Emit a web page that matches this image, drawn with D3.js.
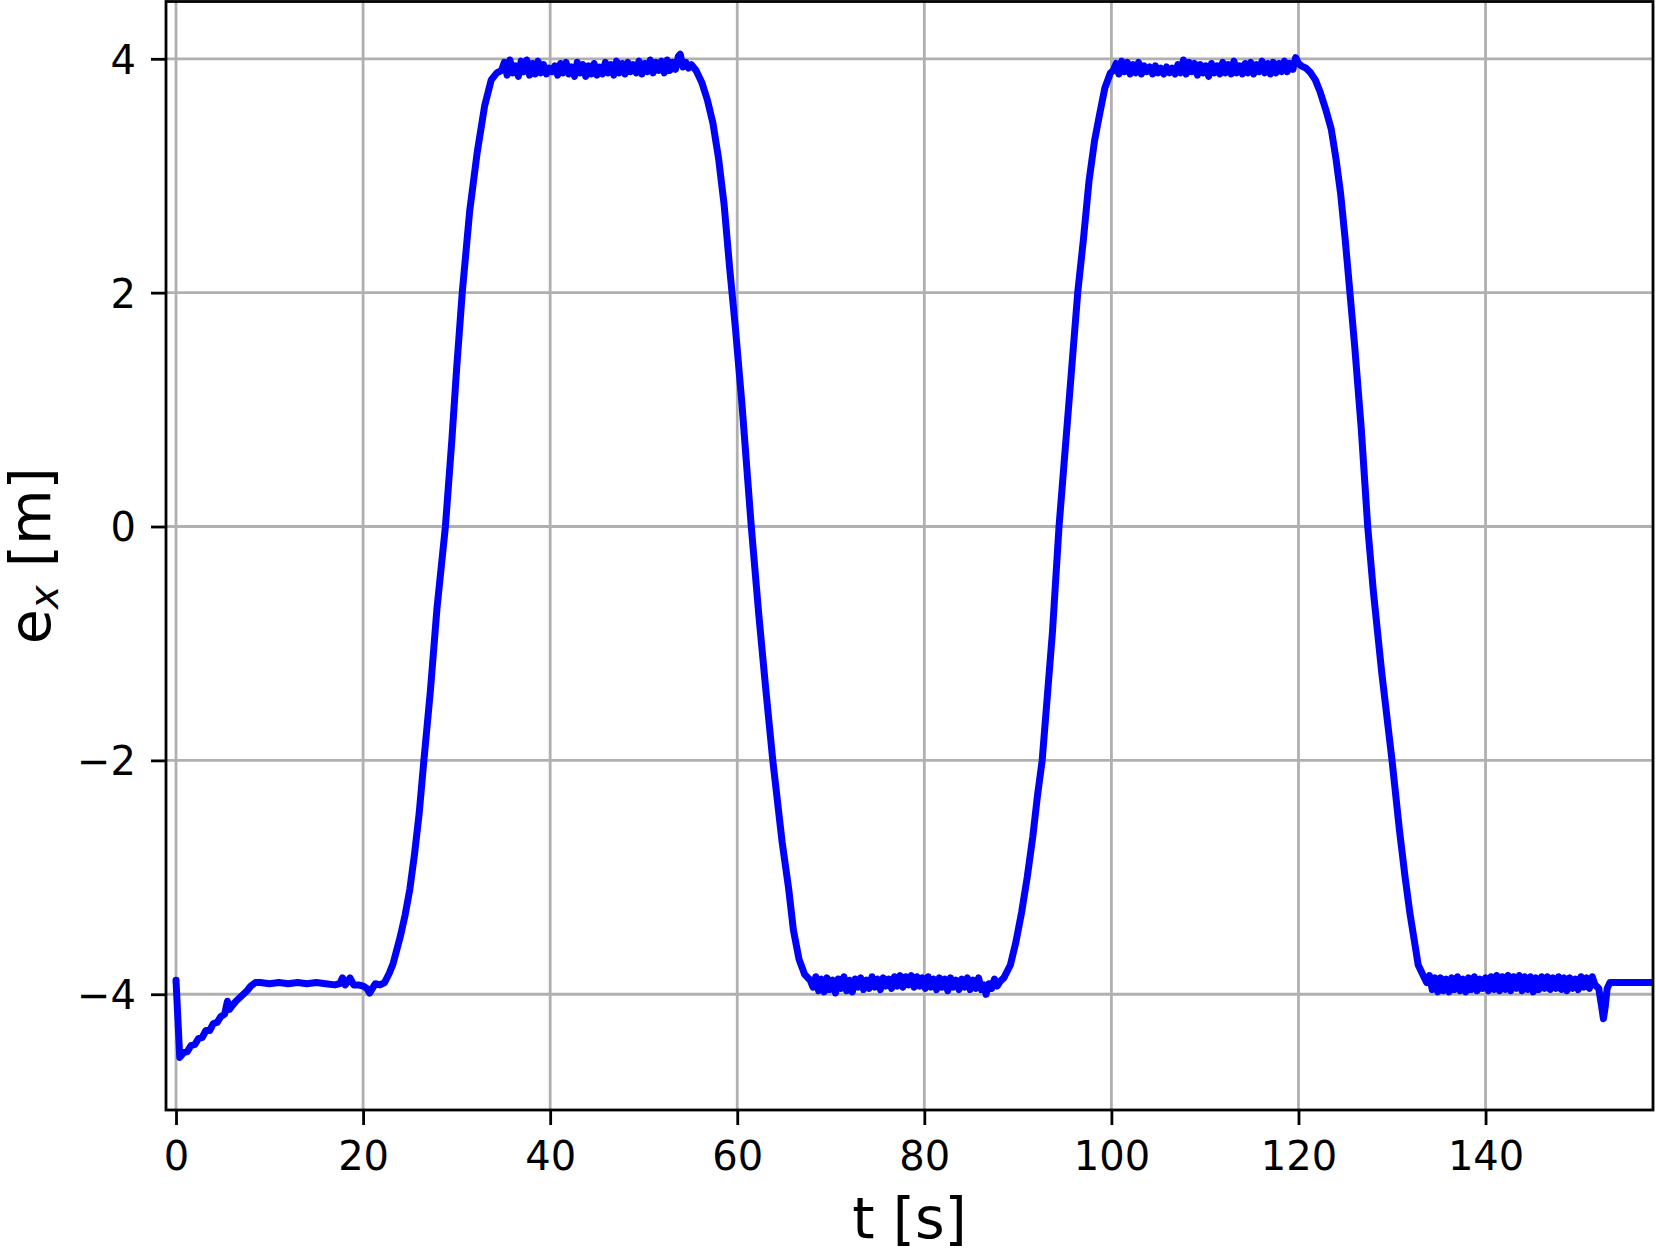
<!DOCTYPE html>
<html>
<head>
<meta charset="utf-8">
<script src="https://cdn.jsdelivr.net/npm/d3@7"></script>
<style>
  body { margin: 0; background: white; }
  svg { display: block; font-family: "DejaVu Sans", sans-serif; }
</style>
</head>
<body>
<svg></svg>
<script>
let width = 1656, height = 1249;

// Data: [t (s), e_x (m)]
const startRamp = [[0.0,-3.88],[0.4,-4.54],[0.8,-4.50],[1.2,-4.49],[1.6,-4.44],[2.0,-4.43],[2.4,-4.38],[2.8,-4.37],[3.2,-4.31],[3.6,-4.31],[4.0,-4.25],[4.4,-4.24],[4.8,-4.19],[5.2,-4.17],[5.5,-4.06],[5.7,-4.13],[6.0,-4.10],[6.4,-4.06],[6.8,-4.03],[7.2,-4.00],[7.6,-3.97],[8.0,-3.93],[8.5,-3.90]];
const firstHold = [[9,-3.90],[10,-3.91],[11,-3.90],[12,-3.91],[13,-3.90],[14,-3.91],[15,-3.90],[16,-3.91],[17,-3.92],[17.5,-3.91],[17.8,-3.86],[18.1,-3.92],[18.6,-3.86],[19.0,-3.92],[19.5,-3.92],[20.0,-3.93],[20.4,-3.95],[20.7,-3.99],[21.0,-3.95],[21.3,-3.91],[21.8,-3.92],[22.3,-3.90]];
const riseOne = [[22.8,-3.82],[23.2,-3.74],[23.6,-3.62],[24.0,-3.50],[24.5,-3.32],[25.0,-3.10],[25.5,-2.80],[26.0,-2.45],[26.5,-2.00],[27.2,-1.40],[27.9,-0.70],[28.8,0.00],[29.5,0.75],[30.0,1.35],[30.6,2.00],[31.4,2.70],[32.2,3.20],[33.0,3.60],[33.7,3.82],[34.3,3.88]];
const topOne = [[34.8,3.90],[35.1,3.97],[35.4,3.86],[35.7,3.99],[36.0,3.88],[36.3,3.94],[36.6,3.85],[36.9,3.98],[37.2,3.89],[37.5,3.99],[37.8,3.86],[38.1,3.96],[38.4,3.87],[38.7,3.98],[39.0,3.88],[39.3,3.95],[39.6,3.87],[39.9,3.92],[40.2,3.89],[40.5,3.94],[40.8,3.86],[41.1,3.96],[41.4,3.88],[41.7,3.97],[42.0,3.87],[42.3,3.93],[42.6,3.85],[42.9,3.97],[43.2,3.88],[43.5,3.95],[43.8,3.85],[44.1,3.94],[44.4,3.87],[44.7,3.96],[45.0,3.86],[45.3,3.93],[45.6,3.87],[45.9,3.97],[46.2,3.88],[46.5,3.95],[46.8,3.86],[47.1,3.98],[47.4,3.88],[47.7,3.96],[48.0,3.87],[48.3,3.97],[48.6,3.89],[48.9,3.95],[49.2,3.88],[49.5,3.98],[49.8,3.87],[50.1,3.96],[50.4,3.89],[50.7,3.99],[51.0,3.88],[51.3,3.97],[51.6,3.90],[51.9,3.98],[52.2,3.88],[52.5,3.99],[52.8,3.90],[53.1,3.97],[53.4,3.91],[53.7,4.02],[53.9,4.04],[54.2,3.93],[54.5,3.97],[54.8,3.92],[55.1,3.95]];
const fallOne = [[55.6,3.90],[56.2,3.80],[56.8,3.65],[57.4,3.45],[58.0,3.15],[58.6,2.75],[59.2,2.20],[59.8,1.70],[60.5,1.05],[61.5,0.00],[62.3,-0.75],[63.0,-1.35],[63.8,-2.00],[64.8,-2.70],[65.5,-3.10],[66.0,-3.45],[66.6,-3.70],[67.2,-3.83],[67.8,-3.88]];
const bottomOne = [[68.1,-3.94],[68.4,-3.85],[68.7,-3.97],[69.0,-3.87],[69.3,-3.98],[69.6,-3.86],[69.9,-3.96],[70.2,-3.88],[70.5,-3.99],[70.8,-3.87],[71.1,-3.95],[71.4,-3.85],[71.7,-3.97],[72.0,-3.88],[72.3,-3.98],[72.6,-3.87],[72.9,-3.94],[73.2,-3.86],[73.5,-3.96],[73.8,-3.88],[74.1,-3.95],[74.4,-3.85],[74.7,-3.94],[75.0,-3.87],[75.3,-3.96],[75.6,-3.86],[75.9,-3.93],[76.2,-3.87],[76.5,-3.95],[76.8,-3.85],[77.1,-3.93],[77.4,-3.84],[77.7,-3.94],[78.0,-3.85],[78.3,-3.92],[78.6,-3.84],[78.9,-3.94],[79.2,-3.85],[79.5,-3.93],[79.8,-3.86],[80.1,-3.95],[80.4,-3.85],[80.7,-3.94],[81.0,-3.87],[81.3,-3.96],[81.6,-3.86],[81.9,-3.94],[82.2,-3.87],[82.5,-3.97],[82.8,-3.86],[83.1,-3.94],[83.4,-3.88],[83.7,-3.96],[84.0,-3.87],[84.3,-3.94],[84.6,-3.86],[84.9,-3.96],[85.2,-3.88],[85.5,-3.95],[85.8,-3.86],[86.1,-3.96],[86.4,-3.92],[86.6,-4.00],[86.9,-3.91],[87.2,-3.95],[87.5,-3.87],[87.8,-3.93],[88.1,-3.89]];
const riseTwo = [[88.5,-3.86],[89.2,-3.75],[89.8,-3.55],[90.4,-3.30],[91.0,-3.00],[91.6,-2.65],[92.1,-2.30],[92.6,-2.00],[93.1,-1.50],[93.7,-0.90],[94.4,0.00],[95.0,0.60],[95.7,1.30],[96.4,2.00],[97.0,2.45],[97.6,2.95],[98.2,3.30],[98.8,3.55],[99.3,3.75],[99.9,3.88]];
const topTwo = [[100.2,3.90],[100.5,3.96],[100.8,3.87],[101.1,3.98],[101.4,3.89],[101.7,3.97],[102.0,3.87],[102.3,3.95],[102.6,3.88],[102.9,3.97],[103.2,3.87],[103.5,3.94],[103.8,3.89],[104.1,3.93],[104.4,3.87],[104.7,3.94],[105.0,3.88],[105.3,3.92],[105.6,3.87],[105.9,3.93],[106.2,3.88],[106.5,3.92],[106.8,3.87],[107.1,3.95],[107.4,3.88],[107.7,3.99],[108.0,3.87],[108.3,3.97],[108.6,3.89],[108.9,3.96],[109.2,3.86],[109.5,3.95],[109.8,3.88],[110.1,3.94],[110.4,3.85],[110.7,3.96],[111.0,3.88],[111.3,3.94],[111.6,3.87],[111.9,3.97],[112.2,3.88],[112.5,3.95],[112.8,3.87],[113.1,3.98],[113.4,3.88],[113.7,3.94],[114.0,3.87],[114.3,3.96],[114.6,3.88],[114.9,3.97],[115.2,3.87],[115.5,3.95],[115.8,3.89],[116.1,3.98],[116.4,3.88],[116.7,3.96],[117.0,3.87],[117.3,3.97],[117.6,3.88],[117.9,3.96],[118.2,3.89],[118.5,3.98],[118.8,3.89],[119.1,3.96],[119.4,3.91],[119.7,4.01],[120.0,3.96],[120.3,3.94]];
const fallTwo = [[120.8,3.92],[121.3,3.88],[121.8,3.82],[122.3,3.72],[122.9,3.57],[123.5,3.40],[124.0,3.15],[124.5,2.85],[125.0,2.45],[125.5,2.00],[126.0,1.55],[126.7,0.85],[127.4,0.00],[128.0,-0.55],[128.9,-1.25],[130.0,-2.00],[130.8,-2.60],[131.4,-3.00],[131.9,-3.30],[132.3,-3.50],[132.8,-3.75],[133.4,-3.85]];
const bottomTwo = [[133.7,-3.90],[134.0,-3.84],[134.3,-3.96],[134.6,-3.86],[134.9,-3.98],[135.2,-3.86],[135.5,-3.97],[135.8,-3.87],[136.1,-3.98],[136.4,-3.86],[136.7,-3.96],[137.0,-3.85],[137.3,-3.97],[137.6,-3.87],[137.9,-3.98],[138.2,-3.86],[138.5,-3.96],[138.8,-3.85],[139.1,-3.97],[139.4,-3.87],[139.7,-3.95],[140.0,-3.86],[140.3,-3.97],[140.6,-3.85],[140.9,-3.96],[141.2,-3.84],[141.5,-3.97],[141.8,-3.85],[142.1,-3.96],[142.4,-3.84],[142.7,-3.97],[143.0,-3.85],[143.3,-3.95],[143.6,-3.84],[143.9,-3.97],[144.2,-3.85],[144.5,-3.96],[144.8,-3.85],[145.1,-3.98],[145.4,-3.86],[145.7,-3.96],[146.0,-3.85],[146.3,-3.95],[146.6,-3.85],[146.9,-3.96],[147.2,-3.86],[147.5,-3.95],[147.8,-3.85],[148.1,-3.96],[148.4,-3.86],[148.7,-3.97],[149.0,-3.86],[149.3,-3.95],[149.6,-3.87],[149.9,-3.96],[150.2,-3.85],[150.5,-3.94],[150.8,-3.86],[151.1,-3.95],[151.4,-3.85],[151.7,-3.92]];
const endDip = [[152.1,-3.95],[152.4,-4.10],[152.6,-4.21],[152.8,-4.10],[153.0,-3.95],[153.3,-3.90],[154.0,-3.90],[158.0,-3.90]];

const xTicks = [0, 20, 40, 60, 80, 100, 120, 140];
const yTicks = [-4, -2, 0, 2, 4];

let series = [].concat(startRamp, firstHold, riseOne, topOne, fallOne, bottomOne,
                       riseTwo, topTwo, fallTwo, bottomTwo, endDip);

let margin = {left: 166, right: 3, top: 1.5, bottom: 139};
let plotW = width - margin.left - margin.right,
    plotH = height - margin.top - margin.bottom;

let svg = d3.select("svg")
    .attr("width", width)
    .attr("height", height)
    .attr("viewBox", "0 0 " + width + " " + height);

let x = d3.scaleLinear().domain([-1.07, 157.9]).range([margin.left, margin.left + plotW]);
let y = d3.scaleLinear().domain([-4.99, 4.49]).range([margin.top + plotH, margin.top]);

// clip
svg.append("defs").append("clipPath").attr("id", "clip")
    .append("rect")
    .attr("x", margin.left).attr("y", margin.top)
    .attr("width", plotW).attr("height", plotH);

// grid
let grid = svg.append("g").attr("stroke", "#b0b0b0").attr("stroke-width", 2.8);
grid.selectAll(".gx").data(xTicks).enter().append("line")
    .attr("x1", d => x(d)).attr("x2", d => x(d))
    .attr("y1", margin.top).attr("y2", margin.top + plotH);
grid.selectAll(".gy").data(yTicks).enter().append("line")
    .attr("y1", d => y(d)).attr("y2", d => y(d))
    .attr("x1", margin.left).attr("x2", margin.left + plotW);

// the line
let line = d3.line().x(d => x(d[0])).y(d => y(d[1]));
svg.append("path")
    .datum(series)
    .attr("clip-path", "url(#clip)")
    .attr("fill", "none")
    .attr("stroke", "#0000ff")
    .attr("stroke-width", 7)
    .attr("stroke-linejoin", "round")
    .attr("stroke-linecap", "round")
    .attr("d", line);

// axes
let xAxis = d3.axisBottom(x).tickValues(xTicks).tickSize(15).tickPadding(17)
    .tickFormat(d3.format("d"));
let yAxis = d3.axisLeft(y).tickValues(yTicks).tickSize(15).tickPadding(15)
    .tickFormat(d => d < 0 ? "\u2212" + Math.abs(d) : d);

let gx = svg.append("g")
    .attr("transform", "translate(0," + (margin.top + plotH) + ")")
    .call(xAxis);
let gy = svg.append("g")
    .attr("transform", "translate(" + margin.left + ",0)")
    .call(yAxis);

[gx, gy].forEach(g => {
    g.select(".domain").remove();
    g.selectAll(".tick line").attr("stroke", "black").attr("stroke-width", 2.8);
    g.selectAll(".tick text")
        .attr("fill", "black")
        .style("font-family", "DejaVu Sans")
        .style("font-size", "40px");
});
gy.selectAll(".tick text").attr("dy", "0.36em");

// frame
svg.append("rect")
    .attr("x", margin.left).attr("y", margin.top)
    .attr("width", plotW).attr("height", plotH)
    .attr("fill", "none").attr("stroke", "black").attr("stroke-width", 2.8);

// axis labels
svg.append("text")
    .attr("x", margin.left + plotW / 2)
    .attr("y", 1238)
    .attr("text-anchor", "middle")
    .style("font-size", "57px")
    .text("t [s]");

let ylab = svg.append("text")
    .attr("transform", "translate(50," + (margin.top + plotH / 2) + ") rotate(-90)")
    .attr("text-anchor", "middle")
    .style("font-size", "57px");
ylab.append("tspan").text("e");
ylab.append("tspan").attr("dy", 8).style("font-size", "40px").style("font-style", "italic").text("x");
ylab.append("tspan").attr("dy", -8).text(" [m]");
</script>
</body>
</html>
